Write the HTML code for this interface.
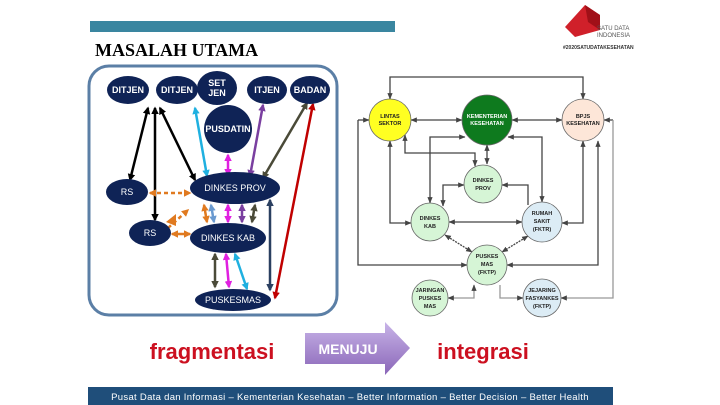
<!DOCTYPE html>
<html><head><meta charset="utf-8"><style>
html,body{margin:0;padding:0;background:#fff;}
svg{display:block;font-family:"Liberation Sans",sans-serif;}
</style></head><body>
<svg width="720" height="405" viewBox="0 0 720 405" xmlns="http://www.w3.org/2000/svg">
<defs>
<marker id="mk" viewBox="0 0 10 10" refX="8" refY="5" markerWidth="3" markerHeight="3" orient="auto-start-reverse"><path d="M0,0L10,5L0,10z" fill="#000"/></marker>
<marker id="mc" viewBox="0 0 10 10" refX="8" refY="5" markerWidth="3" markerHeight="3" orient="auto-start-reverse"><path d="M0,0L10,5L0,10z" fill="#1fb0e0"/></marker>
<marker id="mm" viewBox="0 0 10 10" refX="8" refY="5" markerWidth="3" markerHeight="3" orient="auto-start-reverse"><path d="M0,0L10,5L0,10z" fill="#e020e0"/></marker>
<marker id="mp" viewBox="0 0 10 10" refX="8" refY="5" markerWidth="3" markerHeight="3" orient="auto-start-reverse"><path d="M0,0L10,5L0,10z" fill="#7a3fa0"/></marker>
<marker id="mo" viewBox="0 0 10 10" refX="8" refY="5" markerWidth="3" markerHeight="3" orient="auto-start-reverse"><path d="M0,0L10,5L0,10z" fill="#4a4a38"/></marker>
<marker id="mr" viewBox="0 0 10 10" refX="8" refY="5" markerWidth="3" markerHeight="3" orient="auto-start-reverse"><path d="M0,0L10,5L0,10z" fill="#c00000"/></marker>
<marker id="mn" viewBox="0 0 10 10" refX="8" refY="5" markerWidth="3" markerHeight="3" orient="auto-start-reverse"><path d="M0,0L10,5L0,10z" fill="#2a3f60"/></marker>
<marker id="mor" viewBox="0 0 10 10" refX="8" refY="5" markerWidth="3" markerHeight="3" orient="auto-start-reverse"><path d="M0,0L10,5L0,10z" fill="#e07a20"/></marker>
<marker id="msb" viewBox="0 0 10 10" refX="8" refY="5" markerWidth="3" markerHeight="3" orient="auto-start-reverse"><path d="M0,0L10,5L0,10z" fill="#6a9ad0"/></marker>
<marker id="mg" viewBox="0 0 10 10" refX="9" refY="5" markerWidth="5" markerHeight="5" orient="auto-start-reverse"><path d="M0,1L10,5L0,9z" fill="#444"/></marker>
</defs>

<!-- header -->
<rect x="90" y="21" width="305" height="11" fill="#3a86a0"/>
<text x="95" y="56" font-family="Liberation Serif,serif" font-weight="bold" font-size="18" fill="#000">MASALAH UTAMA</text>
<polygon points="585,5 600,15 600,30 575,37 565,27" fill="#d0202a"/>
<polygon points="585,5 600,15 600,30 588,22" fill="#a01018"/>
<text x="597" y="30" font-size="6" fill="#555">SATU DATA</text>
<text x="597" y="37" font-size="6" fill="#555">INDONESIA</text>
<text x="563" y="49" font-size="5" font-weight="bold" fill="#333">#2020SATUDATAKESEHATAN</text>

<!-- left box -->
<rect x="89" y="66" width="248" height="249" rx="20" fill="#fff" stroke="#5b7fa6" stroke-width="3"/>

<!-- left arrows -->
<g stroke-width="2.5" fill="none">
<line x1="148" y1="108" x2="130" y2="180" stroke="#000" marker-start="url(#mk)" marker-end="url(#mk)"/>
<line x1="155" y1="108" x2="155" y2="220" stroke="#000" marker-start="url(#mk)" marker-end="url(#mk)"/>
<line x1="160" y1="108" x2="195" y2="180" stroke="#000" marker-start="url(#mk)" marker-end="url(#mk)"/>
<line x1="195" y1="108" x2="207" y2="176" stroke="#1fb0e0" marker-start="url(#mc)" marker-end="url(#mc)"/>
<line x1="228" y1="155" x2="228" y2="175" stroke="#e020e0" marker-start="url(#mm)" marker-end="url(#mm)"/>
<line x1="263" y1="105" x2="250" y2="176" stroke="#7a3fa0" marker-start="url(#mp)" marker-end="url(#mp)"/>
<line x1="307" y1="103" x2="263" y2="178" stroke="#4a4a38" marker-start="url(#mo)" marker-end="url(#mo)"/>
<line x1="313" y1="104" x2="275" y2="298" stroke="#c00000" marker-start="url(#mr)" marker-end="url(#mr)"/>
<line x1="270" y1="200" x2="270" y2="290" stroke="#2a3f60" marker-start="url(#mn)" marker-end="url(#mn)"/>
<line x1="150" y1="193" x2="190" y2="193" stroke="#e07a20" stroke-dasharray="4,3" marker-start="url(#mor)" marker-end="url(#mor)"/>
<line x1="168" y1="228" x2="188" y2="210" stroke="#e07a20" stroke-dasharray="4,3" marker-end="url(#mor)"/>
<line x1="172" y1="234" x2="190" y2="234" stroke="#e07a20" marker-start="url(#mor)" marker-end="url(#mor)"/>
<line x1="204" y1="205" x2="207" y2="222" stroke="#e07a20" marker-start="url(#mor)" marker-end="url(#mor)"/>
<line x1="211" y1="205" x2="214" y2="222" stroke="#6a9ad0" marker-start="url(#msb)" marker-end="url(#msb)"/>
<line x1="228" y1="205" x2="228" y2="222" stroke="#e020e0" marker-start="url(#mm)" marker-end="url(#mm)"/>
<line x1="242" y1="205" x2="242" y2="222" stroke="#7a3fa0" marker-start="url(#mp)" marker-end="url(#mp)"/>
<line x1="255" y1="205" x2="252" y2="222" stroke="#4a4a38" marker-start="url(#mo)" marker-end="url(#mo)"/>
<line x1="215" y1="254" x2="215" y2="287" stroke="#4a4a38" marker-start="url(#mo)" marker-end="url(#mo)"/>
<line x1="226" y1="254" x2="229" y2="287" stroke="#e020e0" marker-start="url(#mm)" marker-end="url(#mm)"/>
<line x1="235" y1="254" x2="247" y2="289" stroke="#1fb0e0" marker-start="url(#mc)" marker-end="url(#mc)"/>
</g>
<polygon points="166,222 176,214 176,226" fill="#e07a20"/>

<!-- left nodes -->
<g fill="#0f2356">
<ellipse cx="128" cy="90" rx="21" ry="14"/>
<ellipse cx="177" cy="90" rx="21" ry="14"/>
<ellipse cx="217" cy="88" rx="20" ry="17"/>
<ellipse cx="267" cy="90" rx="20" ry="14"/>
<ellipse cx="310" cy="90" rx="20" ry="14"/>
<circle cx="228" cy="129" r="24"/>
<ellipse cx="235" cy="188" rx="45" ry="16"/>
<ellipse cx="127" cy="192" rx="21" ry="13"/>
<ellipse cx="150" cy="233" rx="21" ry="13"/>
<ellipse cx="228" cy="238" rx="38" ry="15"/>
<ellipse cx="233" cy="300" rx="38" ry="11"/>
</g>
<g fill="#fff" font-size="9" text-anchor="middle">
<text x="128" y="93" font-weight="bold">DITJEN</text>
<text x="177" y="93" font-weight="bold">DITJEN</text>
<text x="217" y="86" font-weight="bold">SET</text>
<text x="217" y="96" font-weight="bold">JEN</text>
<text x="267" y="93" font-weight="bold">ITJEN</text>
<text x="310" y="93" font-weight="bold">BADAN</text>
<text x="228" y="132" font-weight="bold">PUSDATIN</text>
<text x="235" y="191">DINKES PROV</text>
<text x="127" y="195">RS</text>
<text x="150" y="236">RS</text>
<text x="228" y="241">DINKES KAB</text>
<text x="233" y="303">PUSKESMAS</text>
</g>

<!-- right connectors -->
<g stroke="#444" stroke-width="1.3" fill="none">
<polyline points="390,99 390,77 583,77 583,99" marker-start="url(#mg)" marker-end="url(#mg)"/>
<line x1="411" y1="120" x2="462" y2="120" marker-start="url(#mg)" marker-end="url(#mg)"/>
<line x1="512" y1="120" x2="562" y2="120" marker-start="url(#mg)" marker-end="url(#mg)"/>
<line x1="487" y1="145" x2="487" y2="164" marker-start="url(#mg)" marker-end="url(#mg)"/>
<polyline points="405,135 405,153 475,153 475,166" marker-start="url(#mg)" marker-end="url(#mg)"/>
<polyline points="465,137 430,137 430,203" marker-start="url(#mg)" marker-end="url(#mg)"/>
<polyline points="508,137 542,137 542,202" marker-start="url(#mg)" marker-end="url(#mg)"/>
<polyline points="464,185 443,185 443,206" marker-start="url(#mg)" marker-end="url(#mg)"/>
<polyline points="502,185 528,185 528,205"  marker-start="url(#mg)"/>
<line x1="449" y1="222" x2="522" y2="222" marker-start="url(#mg)" marker-end="url(#mg)"/>
<polyline points="390,141 390,223 411,223" marker-start="url(#mg)" marker-end="url(#mg)"/>
<polyline points="583,141 583,223 562,223" marker-start="url(#mg)" marker-end="url(#mg)"/>
<line x1="445" y1="235" x2="472" y2="252" stroke-dasharray="2,1" marker-start="url(#mg)" marker-end="url(#mg)"/>
<line x1="528" y1="236" x2="502" y2="252" stroke-dasharray="2,1" marker-start="url(#mg)" marker-end="url(#mg)"/>
<polyline points="358,120 369,120" marker-end="url(#mg)"/>
<polyline points="358,120 358,265 467,265" marker-end="url(#mg)"/>
<polyline points="507,265 598,265 598,141" marker-start="url(#mg)" marker-end="url(#mg)"/>
<polyline points="613,120 604,120" marker-end="url(#mg)"/>
<polyline points="613,120 613,298 561,298" stroke="#999" marker-end="url(#mg)"/>
<polyline points="474,285 474,298 448,298" stroke="#999" marker-start="url(#mg)" marker-end="url(#mg)"/>
<polyline points="500,285 500,298 523,298" stroke="#999" marker-end="url(#mg)"/>
</g>
<g stroke="#666" stroke-width="0.8">
<circle cx="390" cy="120" r="21" fill="#ffff22"/>
<circle cx="487" cy="120" r="25" fill="#0e7a1e"/>
<circle cx="583" cy="120" r="21" fill="#fde6d8"/>
<circle cx="483" cy="184" r="19" fill="#d6f5d6"/>
<circle cx="430" cy="222" r="19" fill="#d6f5d6"/>
<circle cx="542" cy="222" r="20" fill="#dcecf5"/>
<circle cx="487" cy="265" r="20" fill="#d6f5d6"/>
<circle cx="430" cy="298" r="18" fill="#d6f5d6"/>
<circle cx="542" cy="298" r="19" fill="#dcecf5"/>
</g>
<g font-size="5.5" font-weight="bold" text-anchor="middle" fill="#222">
<text x="390" y="118">LINTAS</text><text x="390" y="125">SEKTOR</text>
<text x="487" y="118" fill="#fff">KEMENTERIAN</text><text x="487" y="125" fill="#fff">KESEHATAN</text>
<text x="583" y="118">BPJS</text><text x="583" y="125">KESEHATAN</text>
<text x="483" y="182">DINKES</text><text x="483" y="190">PROV</text>
<text x="430" y="220">DINKES</text><text x="430" y="228">KAB</text>
<text x="542" y="215">RUMAH</text><text x="542" y="223">SAKIT</text><text x="542" y="231">(FKTR)</text>
<text x="487" y="258">PUSKES</text><text x="487" y="266">MAS</text><text x="487" y="274">(FKTP)</text>
<text x="430" y="292">JARINGAN</text><text x="430" y="300">PUSKES</text><text x="430" y="308">MAS</text>
<text x="542" y="292">JEJARING</text><text x="542" y="300">FASYANKES</text><text x="542" y="308">(FKTP)</text>
</g>

<!-- bottom -->
<text x="212" y="359" font-size="22" font-weight="bold" fill="#cc1020" text-anchor="middle">fragmentasi</text>
<defs><linearGradient id="pg" x1="0" y1="0" x2="0" y2="1"><stop offset="0" stop-color="#c8b4e8"/><stop offset="1" stop-color="#8a66b8"/></linearGradient></defs>
<polygon points="305,333 385,333 385,322 410,348 385,375 385,364 305,364" fill="url(#pg)"/>
<text x="348" y="354" font-size="14" font-weight="bold" fill="#fff" text-anchor="middle">MENUJU</text>
<text x="483" y="359" font-size="22" font-weight="bold" fill="#cc1020" text-anchor="middle">integrasi</text>

<rect x="88" y="387" width="525" height="18" fill="#1f4e7a"/>
<text x="350" y="400" font-size="9.5" fill="#fff" text-anchor="middle" letter-spacing="0.3">Pusat Data dan Informasi – Kementerian Kesehatan – Better Information – Better Decision – Better Health</text>
</svg>
</body></html>
